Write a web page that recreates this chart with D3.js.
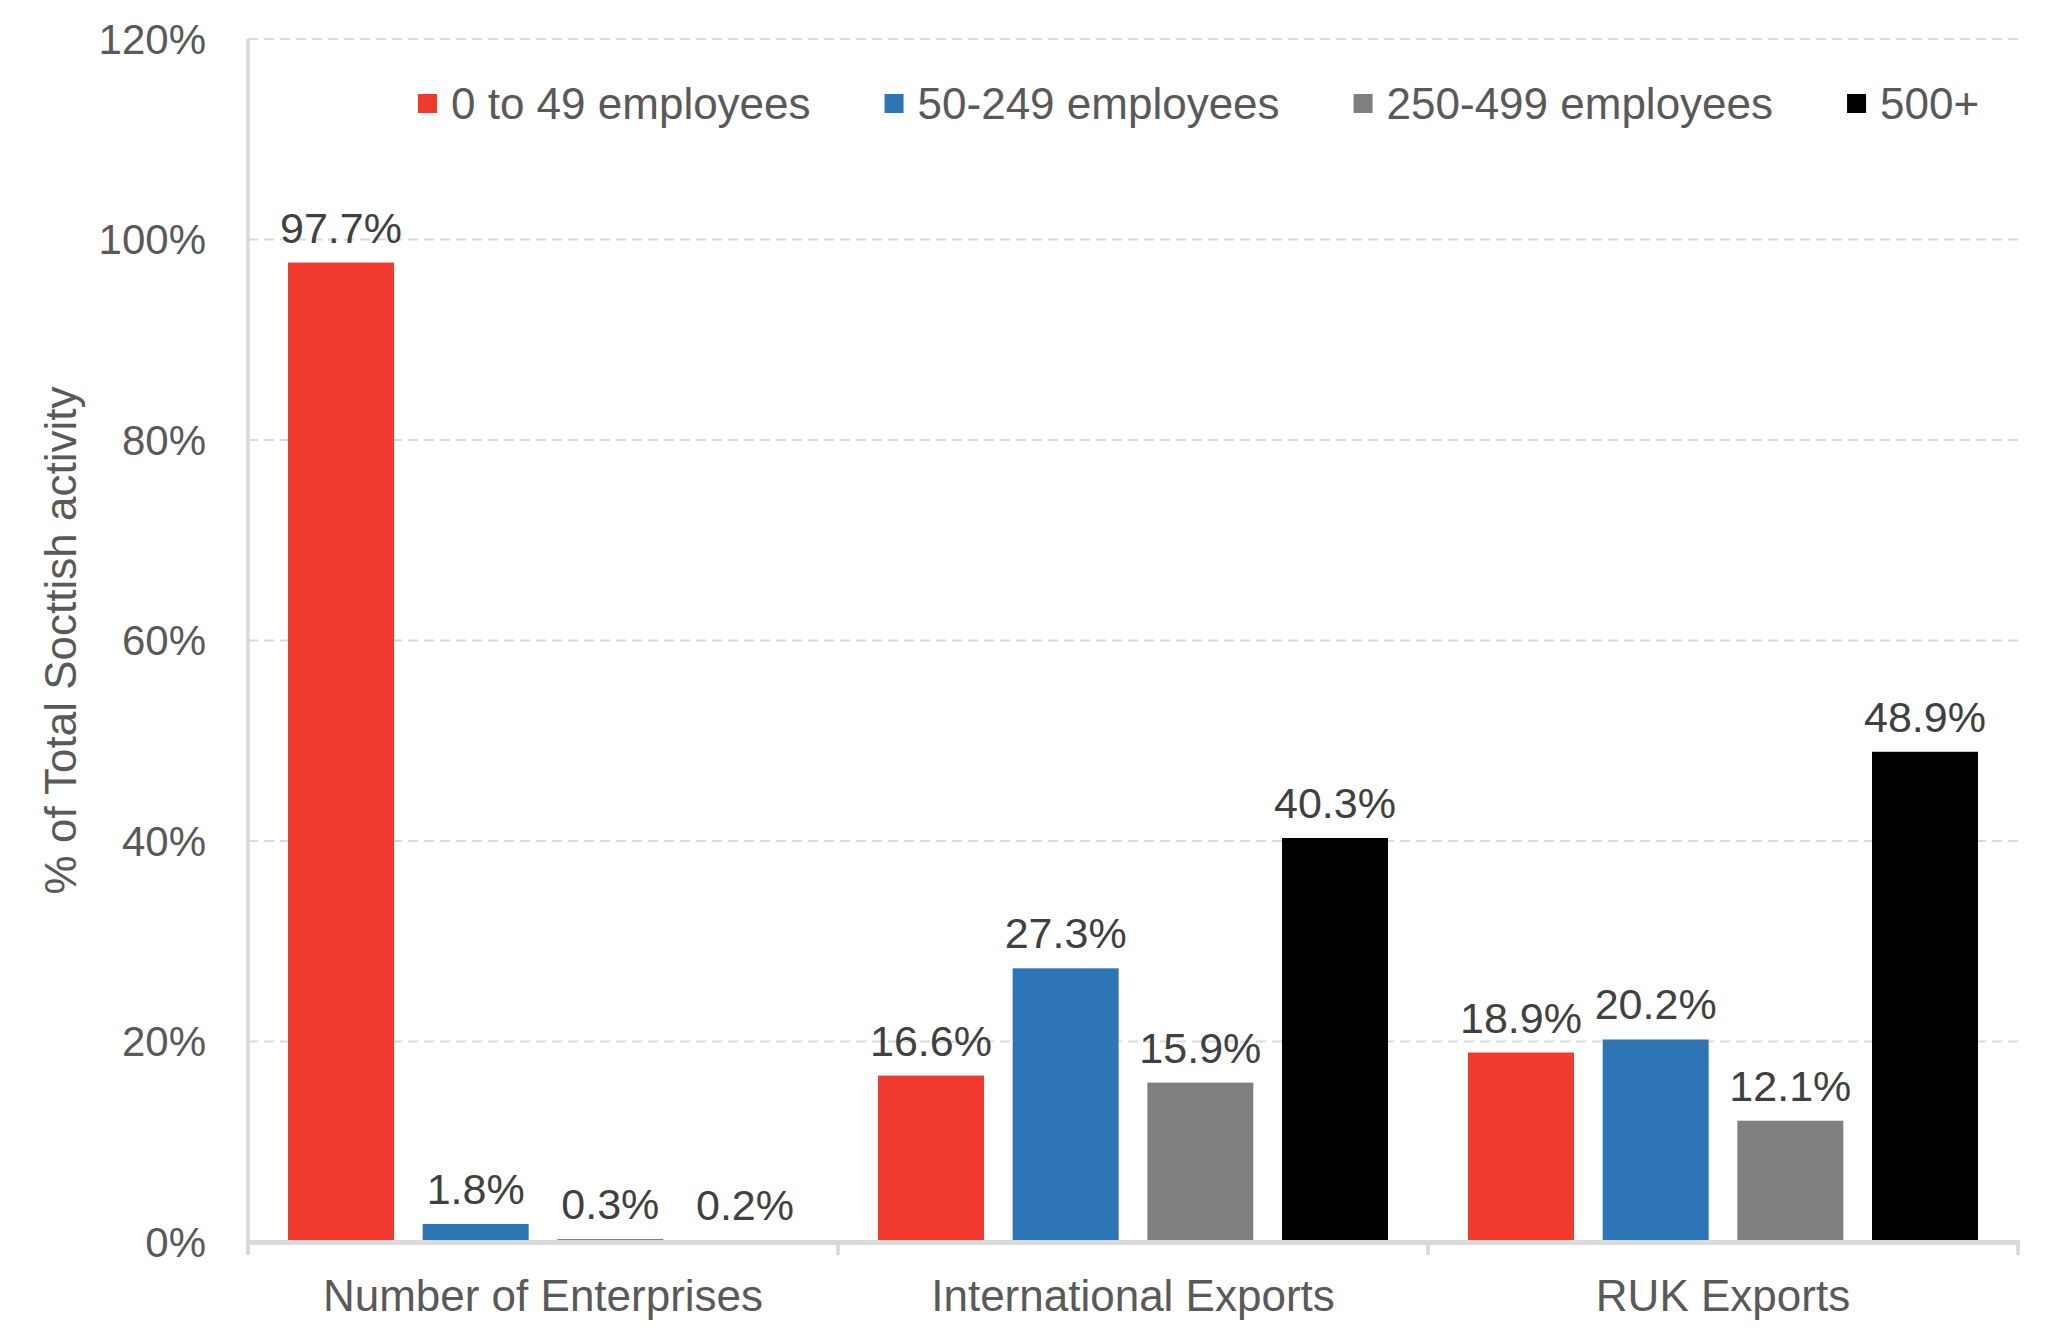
<!DOCTYPE html>
<html><head><meta charset="utf-8">
<script src="https://cdn.jsdelivr.net/npm/d3@7"></script>
<style>html,body{margin:0;padding:0;background:#fff;}svg{display:block;font-family:"Liberation Sans",Arial,sans-serif;}</style>
</head><body>
<svg id="chart" width="2048" height="1338"></svg>
<script>
const categories = ["Number of Enterprises", "International Exports", "RUK Exports"];
const seriesNames = ["0 to 49 employees", "50-249 employees", "250-499 employees", "500+"];
const seriesColors = ["#EF3A2D", "#2E75B6", "#7F7F7F", "#000000"];
const small = [97.7, 16.6, 18.9];
const medium = [1.8, 27.3, 20.2];
const large = [0.3, 15.9, 12.1];
const veryLarge = [0.2, 40.3, 48.9];
const yTicks = [0, 20, 40, 60, 80, 100, 120];
const yAxisTitle = "% of Total Socttish activity";

(function () {
const seriesValues = [small, medium, large, veryLarge];
const svg = d3.select("#chart");
const mLeft = 248, mRight = 2018, mTop = 39, mBottom = 1242;

const y = d3.scaleLinear().domain([0, 120]).range([mBottom, mTop]);
const x0 = d3.scaleBand().domain(categories).range([mLeft, mRight]).padding(0);
const x1 = d3.scaleBand().domain(d3.range(seriesNames.length)).range([0, x0.bandwidth()])
  .paddingInner(0.213).paddingOuter(0.297);

// gridlines
svg.append("g").selectAll("line").data(yTicks.filter(d => d > 0)).join("line")
  .attr("x1", mLeft).attr("x2", mRight)
  .attr("y1", d => y(d)).attr("y2", d => y(d))
  .attr("stroke", "#d9d9d9").attr("stroke-width", 2).attr("stroke-dasharray", "10,6");

// y tick labels
svg.append("g").selectAll("text").data(yTicks).join("text")
  .attr("x", 206).attr("y", d => y(d)).attr("dy", "0.35em")
  .attr("text-anchor", "end").attr("font-size", 42).attr("fill", "#595959")
  .text(d => d + "%");

// y axis title
svg.append("text")
  .attr("transform", `translate(61,${(mTop + mBottom) / 2}) rotate(-90)`)
  .attr("text-anchor", "middle").attr("dy", "0.35em")
  .attr("font-size", 44).attr("fill", "#595959").text(yAxisTitle);

// bars
const groups = svg.append("g").selectAll("g").data(categories).join("g")
  .attr("transform", d => `translate(${x0(d)},0)`);
groups.each(function(cat, ci) {
  const g = d3.select(this);
  const vals = seriesValues.map((s, si) => ({si, v: s[ci]}));
  g.selectAll("rect").data(vals).join("rect")
    .attr("x", d => x1(d.si)).attr("width", x1.bandwidth())
    .attr("y", d => y(d.v)).attr("height", d => y(0) - y(d.v))
    .attr("fill", d => seriesColors[d.si]);
  g.selectAll("text").data(vals).join("text")
    .attr("x", d => x1(d.si) + x1.bandwidth() / 2).attr("y", d => y(d.v) - 20)
    .attr("text-anchor", "middle").attr("font-size", 43).attr("fill", "#404040")
    .text(d => d.v.toFixed(1) + "%");
});

// axes lines
svg.append("line").attr("x1", mLeft).attr("x2", mLeft).attr("y1", mTop).attr("y2", mBottom + 12)
  .attr("stroke", "#d9d9d9").attr("stroke-width", 3.5);
svg.append("line").attr("x1", mLeft).attr("x2", mRight + 2).attr("y1", mBottom + 0.5).attr("y2", mBottom + 0.5)
  .attr("stroke", "#d9d9d9").attr("stroke-width", 5);
const bounds = categories.map(c => x0(c)).concat([mRight]);
svg.append("g").selectAll("line").data(bounds).join("line")
  .attr("x1", d => d).attr("x2", d => d).attr("y1", mBottom).attr("y2", mBottom + 13)
  .attr("stroke", "#d9d9d9").attr("stroke-width", 3.5);

// category labels
svg.append("g").selectAll("text").data(categories).join("text")
  .attr("x", d => x0(d) + x0.bandwidth() / 2).attr("y", 1311)
  .attr("text-anchor", "middle").attr("font-size", 44).attr("fill", "#595959")
  .text(d => d);

// legend
const legend = svg.append("g");
let lx = 418;
seriesNames.forEach((name, i) => {
  legend.append("rect").attr("x", lx).attr("y", 94).attr("width", 19).attr("height", 19)
    .attr("fill", seriesColors[i]);
  const t = legend.append("text").attr("x", lx + 33).attr("y", 104).attr("dy", "0.35em")
    .attr("font-size", 44).attr("fill", "#595959").text(name);
  lx = lx + 33 + t.node().getComputedTextLength() + 74;
});
})();
</script>
</body></html>
